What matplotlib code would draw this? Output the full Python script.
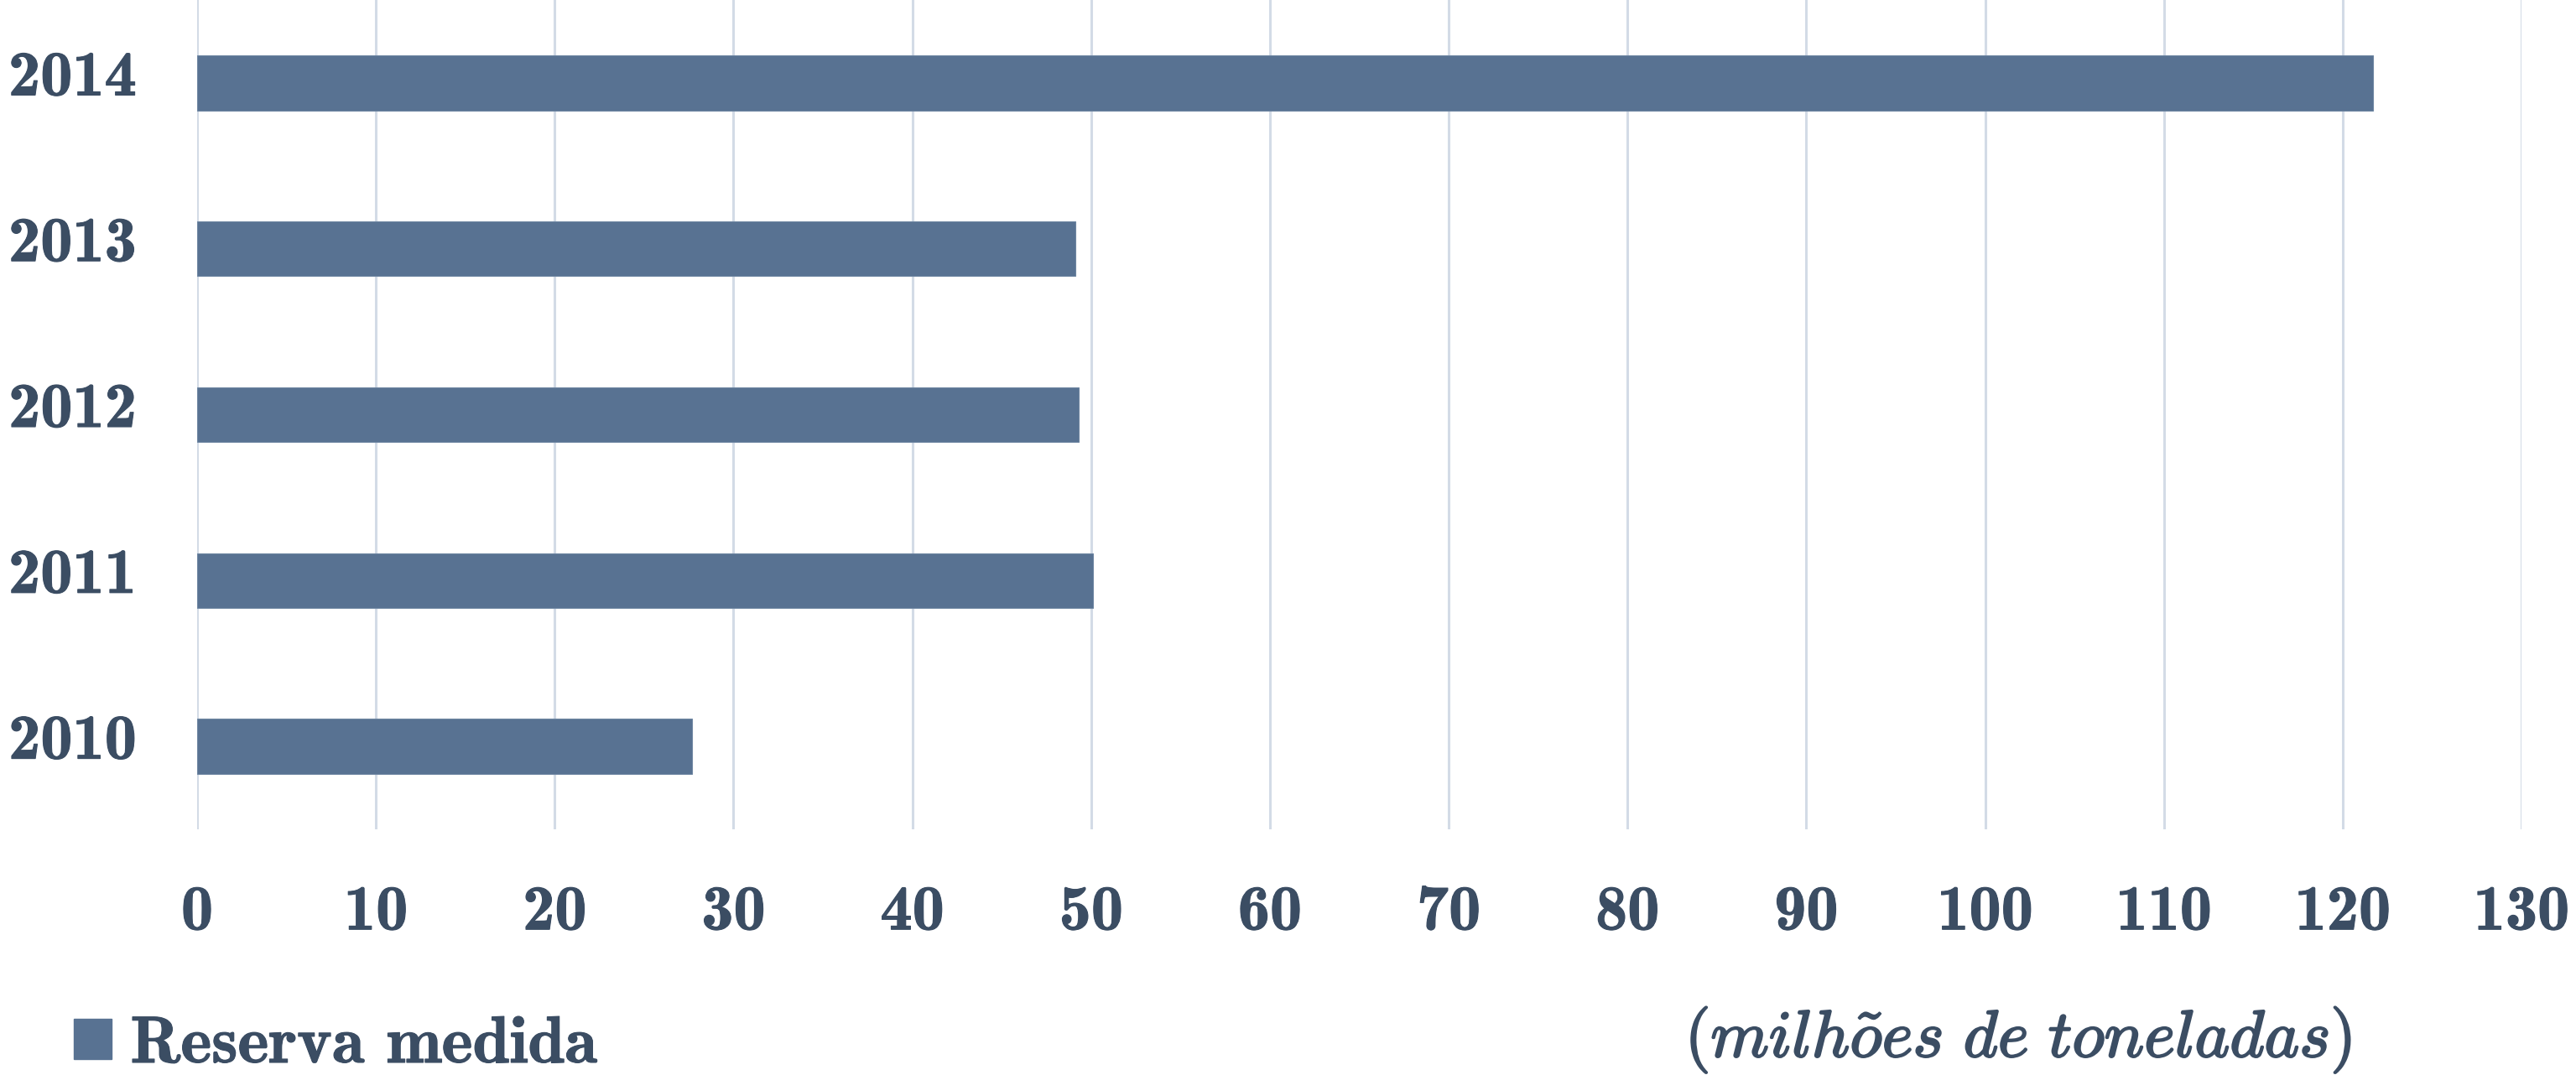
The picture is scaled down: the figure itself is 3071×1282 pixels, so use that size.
import matplotlib
matplotlib.use("Agg")
import matplotlib.pyplot as plt
import matplotlib.patheffects as pe
import matplotlib.transforms as mtransforms
from matplotlib.patches import Patch

years = ["2010", "2011", "2012", "2013", "2014"]
reserva_medida = [27.7, 50.1, 49.3, 49.1, 121.7]
x_ticks = [0, 10, 20, 30, 40, 50, 60, 70, 80, 90, 100, 110, 120, 130]
series_label = "Reserva medida"
unit_label = r"$\mathit{(milh\tilde{o}es\ de\ toneladas)}$"

bar_color = "#587292"
text_color = "#3B4D63"
grid_color = "#D3DBE6"

plt.rcParams["mathtext.fontset"] = "cm"
plt.rcParams["axes.unicode_minus"] = False

W, H, DPI = 3071, 1282, 100
fig = plt.figure(figsize=(W / DPI, H / DPI), dpi=DPI)
ax = fig.add_axes([235 / W, (H - 989) / H, (3006 - 235) / W, 989 / H])

ypos = list(range(len(years)))
ax.barh(ypos, reserva_medida, height=0.33, color=bar_color,
        edgecolor="#6E86A2", linewidth=0.8, zorder=3)

ax.set_xlim(0, 130)
ax.set_ylim(-0.5, len(years) - 0.5)
ax.set_xticks(x_ticks)
ax.set_yticks(ypos)
ax.set_yticklabels(years)
ax.grid(axis="x", color=grid_color, linewidth=2.2, zorder=0)
ax.grid(axis="y", visible=False)
for s in ax.spines.values():
    s.set_visible(False)
ax.tick_params(axis="both", length=0, colors=text_color, labelsize=55)
ax.tick_params(axis="x", pad=47)
ax.tick_params(axis="y", pad=52)
for lbl in ax.get_xticklabels() + ax.get_yticklabels():
    lbl.set_family("cmb10")
    lbl.set_path_effects([pe.withStroke(linewidth=0.8, foreground=text_color)])
shift = mtransforms.ScaledTranslation(0, 9 / 72, fig.dpi_scale_trans)
for lbl in ax.get_yticklabels():
    lbl.set_transform(lbl.get_transform() + shift)

leg = fig.legend(handles=[Patch(facecolor=bar_color, edgecolor=bar_color)],
                 labels=[series_label], loc="lower left",
                 bbox_to_anchor=(88 / W, 0.0), frameon=False,
                 prop={"family": "cmb10", "size": 57},
                 handlelength=0.57, handleheight=0.57, handletextpad=0.28,
                 borderpad=0.0, borderaxespad=0)
for t in leg.get_texts():
    t.set_color(text_color)
    t.set_path_effects([pe.withStroke(linewidth=0.8, foreground=text_color)])

fig.text(2406 / W, (H - 1260) / H, unit_label, ha="center",
         va="baseline", fontsize=57, color=text_color,
         path_effects=[pe.withStroke(linewidth=1.6, foreground=text_color)])

fig.savefig("out.png", dpi=DPI, facecolor="white")
